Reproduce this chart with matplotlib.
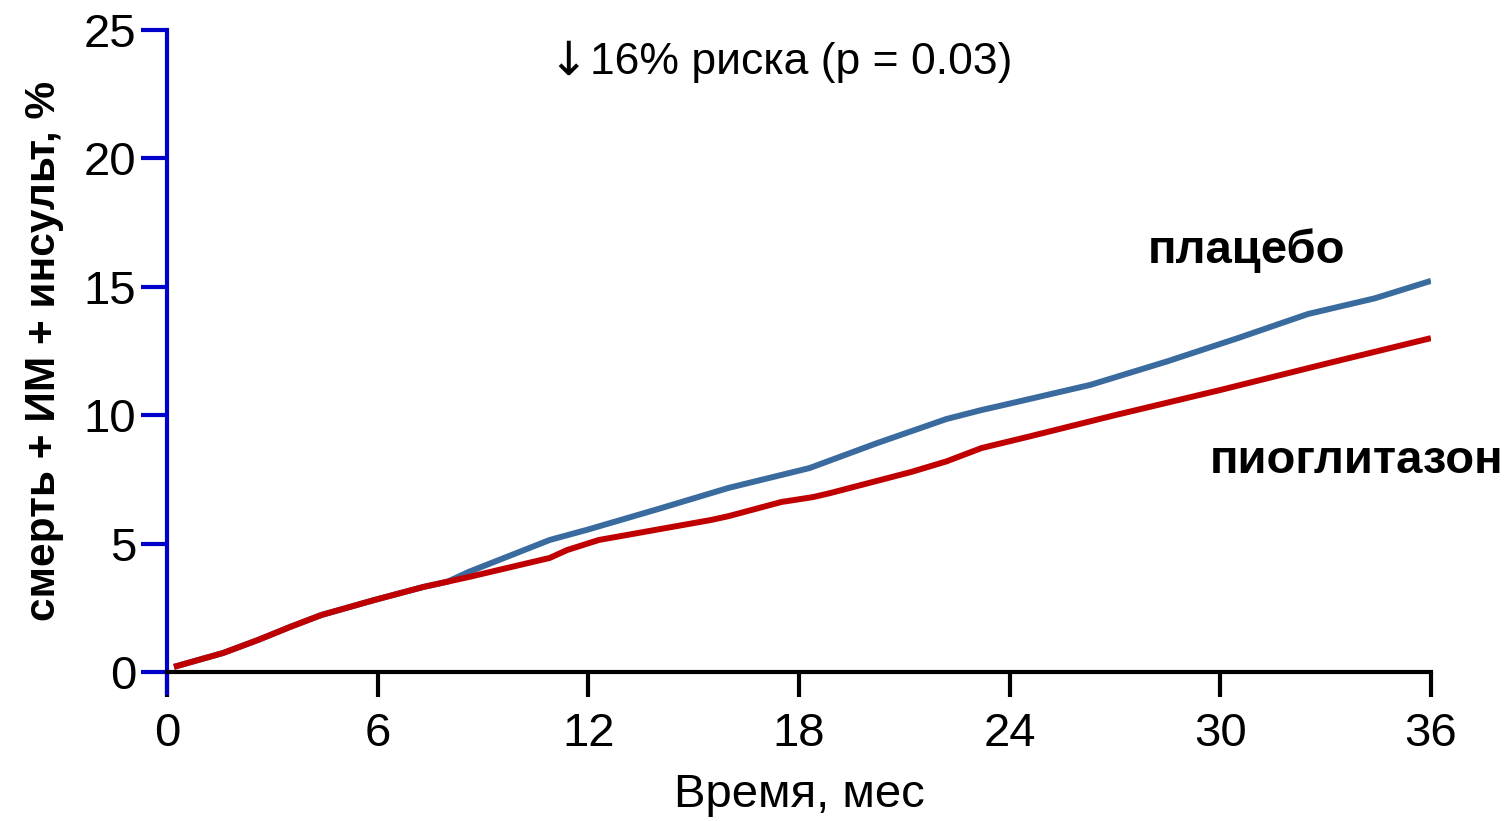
import numpy as np
import matplotlib
matplotlib.use('Agg')
import matplotlib.pyplot as plt

plt.rcParams['font.family'] = ['Liberation Sans', 'DejaVu Sans']

# Cumulative event rate (%) by month
months_placebo = [0.2, 1.6, 2.6, 3.5, 4.4, 5.9, 7.3, 8.0, 8.6, 10.9, 12.0, 14.0,
                  16.0, 18.3, 20.2, 22.2, 23.2, 24.0, 26.3, 28.5, 30.5, 32.5, 34.4, 36.0]
placebo = [0.2, 0.74, 1.25, 1.75, 2.22, 2.8, 3.31, 3.52, 3.9, 5.14, 5.55, 6.35,
           7.17, 7.94, 8.9, 9.85, 10.2, 10.45, 11.18, 12.1, 13.0, 13.94, 14.55, 15.23]

months_pio = [0.2, 1.6, 2.6, 3.5, 4.4, 5.9, 7.3, 8.6, 10.9, 11.4, 12.3, 15.5,
              16.0, 17.5, 18.4, 18.9, 21.2, 22.2, 23.2, 24.5, 27.0, 30.0, 33.0, 36.0]
pioglitazone = [0.2, 0.74, 1.25, 1.75, 2.22, 2.8, 3.31, 3.7, 4.44, 4.75, 5.14, 5.92,
                6.07, 6.62, 6.81, 6.97, 7.79, 8.2, 8.72, 9.15, 10.0, 10.98, 12.0, 13.0]

x_ticks = [0, 6, 12, 18, 24, 30, 36]
y_ticks = [0, 5, 10, 15, 20, 25]

axis_blue = '#0000CC'

fig = plt.figure(figsize=(15.11, 8.21), dpi=100)
ax = fig.add_axes([0.1105, 0.1815, 0.8365, 0.782])

ax.plot(months_placebo, placebo, color='#3A6B9F', lw=4.3, solid_capstyle='butt', zorder=3)
ax.plot(months_pio, pioglitazone, color='#C00000', lw=4.3, solid_capstyle='butt', zorder=4)

ax.set_xlim(0, 36)
ax.set_ylim(0, 25)
ax.set_xticks(x_ticks)
ax.set_yticks(y_ticks)

for side in ['top', 'right']:
    ax.spines[side].set_visible(False)
ax.spines['left'].set_color(axis_blue)
ax.spines['left'].set_linewidth(3)
ax.spines['bottom'].set_color('black')
ax.spines['bottom'].set_linewidth(3)
ax.spines['bottom'].set_zorder(5)
# blue axis runs a little below zero
ax.plot([0, 0], [-0.8, 0], color=axis_blue, lw=3, clip_on=False, zorder=5)

ax.tick_params(axis='x', direction='out', length=18, width=3, color='black',
               labelsize=34, pad=11)
ax.tick_params(axis='y', direction='out', length=19, width=3, color=axis_blue,
               labelsize=34, pad=3)
ax.yaxis.get_major_ticks()[0].tick1line.set_color('black')

ax.set_xlabel('Время, мес', fontsize=34, labelpad=12)
ax.set_ylabel('смерть + ИМ + инсульт, %', fontsize=30.5, fontweight='bold', labelpad=14)

# risk reduction note: arrow glyph from DejaVu, text from Liberation
ax.text(12.0, 23.75, '↓', fontsize=34, family='DejaVu Sans', ha='right', va='center')
ax.text(12.05, 23.75, '16% риска (p = 0.03)', fontsize=32, ha='left', va='center')

ax.text(30.75, 16.4, 'плацебо', fontsize=34, fontweight='bold', ha='center', va='center')
ax.text(29.7, 8.2, 'пиоглитазон', fontsize=34, fontweight='bold', ha='left', va='center',
        clip_on=False)

fig.savefig('out.png', dpi=100)
